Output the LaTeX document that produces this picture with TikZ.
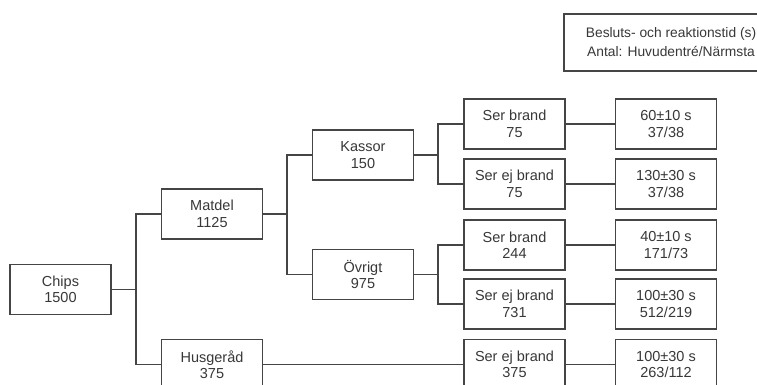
\documentclass[tikz,border=0pt]{standalone}
\usepackage{fontspec}
\setmainfont{Liberation Sans}
\definecolor{linegray}{HTML}{454545}
\definecolor{textgray}{HTML}{383838}
\tikzset{
	box/.style = {draw = linegray, line width = 1.1pt, fill = white, text = textgray,
		minimum width = 101pt, minimum height = 50pt, align = center, inner sep = 0pt,
		font = \fontsize{14.5}{16.5}\selectfont},
	link/.style = {draw = linegray, line width = 1.1pt}
}
\begin{document}
\begin{tikzpicture}[x = 1pt, y = -1pt]
	\clip (0,0) rectangle (757,385);
	\fill[white] (0,0) rectangle (757,385);
	% legend
	\node[box, minimum width = 214pt, minimum height = 57pt,
		font = \fontsize{13.8}{19}\selectfont] (legend) at (671,42.5)
		{Besluts- och reaktionstid (s)\\Antal: Huvudentré/Närmsta};
	% tree boxes
	\node[box] (chips) at (60.5,289.5) {Chips\\1500};
	\node[box] (matdel) at (212,214) {Matdel\\1125};
	\node[box] (husg) at (212,364.5) {Husgeråd\\375};
	\node[box] (kassor) at (363,155) {Kassor\\150};
	\node[box] (ovrigt) at (363,274.5) {Övrigt\\975};
	\node[box] (sb1) at (514.5,124) {Ser brand\\75};
	\node[box] (seb1) at (514.5,184) {Ser ej brand\\75};
	\node[box] (sb2) at (514.5,245) {Ser brand\\244};
	\node[box] (seb2) at (514.5,304) {Ser ej brand\\731};
	\node[box] (seb3) at (514.5,364.5) {Ser ej brand\\375};
	% times
	\node[box] (t1) at (666,124) {60±10 s\\37/38};
	\node[box] (t2) at (666,184) {130±30 s\\37/38};
	\node[box] (t3) at (666,245) {40±10 s\\171/73};
	\node[box] (t4) at (666,304) {100±30 s\\512/219};
	\node[box] (t5) at (666,364.5) {100±30 s\\263/112};
	% branch points
	\coordinate (j1) at (136,289.5);
	\coordinate (j2) at (287,214);
	\coordinate (j3) at (438,155);
	\coordinate (j4) at (438,274.5);
	% connectors
	\draw[link] (chips) -- (j1) |- (matdel);
	\draw[link] (j1) |- (husg);
	\draw[link] (matdel) -- (j2) |- (kassor);
	\draw[link] (j2) |- (ovrigt);
	\draw[link] (kassor) -- (j3) |- (sb1);
	\draw[link] (j3) |- (seb1);
	\draw[link] (ovrigt) -- (j4) |- (sb2);
	\draw[link] (j4) |- (seb2);
	\draw[link] (husg) -- (seb3);
	\foreach \a/\b in {sb1/t1, seb1/t2, sb2/t3, seb2/t4, seb3/t5}
		\draw[link] (\a) -- (\b);
\end{tikzpicture}
\end{document}
